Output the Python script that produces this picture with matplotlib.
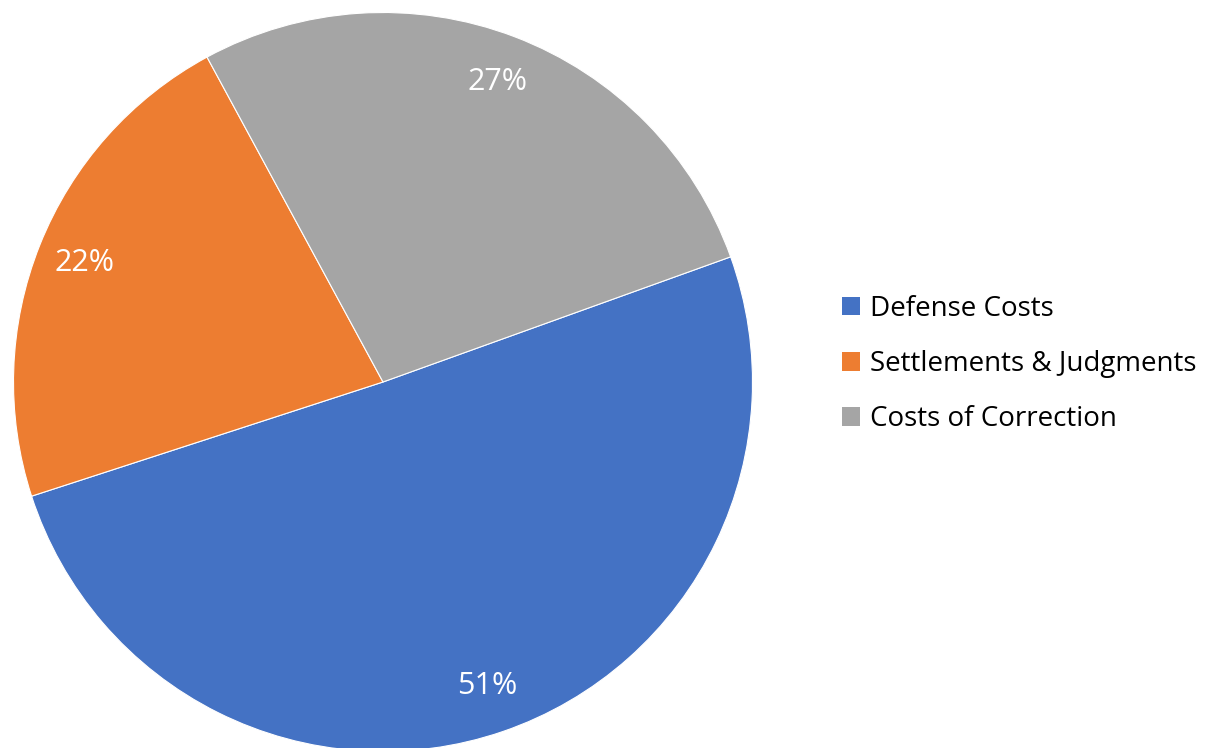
import matplotlib
matplotlib.use("Agg")
import matplotlib.pyplot as plt
from matplotlib.patches import Patch

categories = ["Defense Costs", "Settlements & Judgments", "Costs of Correction"]
values = [50.5, 22.1, 27.4]
colors = ["#4472C4", "#ED7D31", "#A5A5A5"]

plt.rcParams['font.family'] = ['Open Sans', 'DejaVu Sans']

W, H = 1206, 748
fig = plt.figure(figsize=(W/100, H/100), dpi=100)
cx, cy, r = 383, 382, 369.5
ax = fig.add_axes([(cx - r)/W, (H - cy - r)/H, 2*r/W, 2*r/H])
ax.set_aspect('equal')
ax.axis('off')

wedges, texts, autotexts = ax.pie(values, colors=colors, startangle=19.8, counterclock=False,
                                  radius=1, autopct=lambda p: '%d%%' % int(p + 0.5 + 1e-9),
                                  pctdistance=0.87,
                                  wedgeprops=dict(linewidth=0.8, edgecolor='white'),
                                  textprops=dict(color='white', fontsize=22))
ax.set_xlim(-1, 1)
ax.set_ylim(-1, 1)

handles = [Patch(facecolor=c, edgecolor='none') for c in colors]
fig.legend(handles, categories, loc='center left', bbox_to_anchor=(842/W, 1 - 364/H),
           frameon=False, fontsize=20, handlelength=0.65, handleheight=0.65,
           handletextpad=0.35, labelspacing=0.98, borderaxespad=0, borderpad=0)

fig.savefig("out.png", dpi=100)
